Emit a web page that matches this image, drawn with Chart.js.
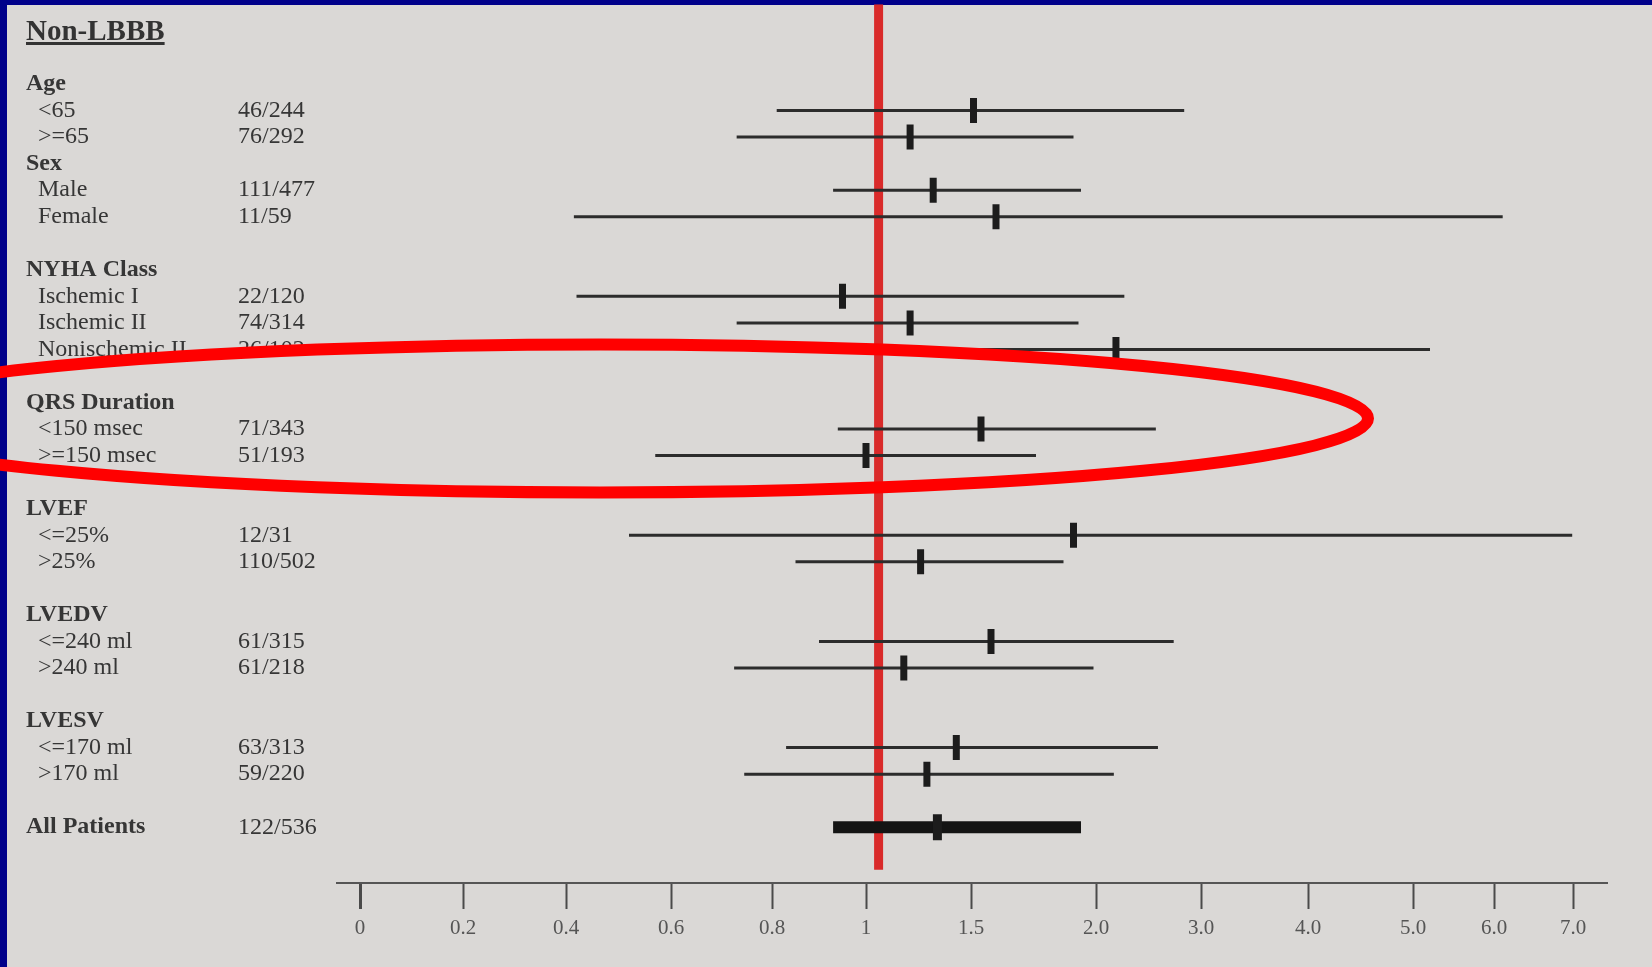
<!DOCTYPE html>
<html>
<head>
<meta charset="utf-8">
<title>Non-LBBB</title>
<script src="https://cdn.jsdelivr.net/npm/chart.js@4.4.1/dist/chart.umd.min.js"></script>
<style>
  html, body { margin: 0; padding: 0; width: 1652px; height: 967px; overflow: hidden; background: #00008a; }
  #panel { position: absolute; left: 7px; top: 5px; right: 0; bottom: 0; background: #dad8d6; }
  #myChart { position: absolute; left: 0; top: 0; }
  #title {
    position: absolute; left: 26px; top: 14px; line-height: 29px;
    font: bold 29px "Liberation Serif", serif; color: #333;
    text-decoration: underline; text-decoration-thickness: 3px; text-underline-offset: 2px;
  }
</style>
</head>
<body>
<div id="panel"></div>
<canvas id="myChart" width="1652" height="967"></canvas>
<div id="title">Non-LBBB</div>
<script>
const rowLabels = [
  "Age", "<65", ">=65", "Sex", "Male", "Female", "",
  "NYHA Class", "Ischemic I", "Ischemic II", "Nonischemic II", "",
  "QRS Duration", "<150 msec", ">=150 msec", "",
  "LVEF", "<=25%", ">25%", "",
  "LVEDV", "<=240 ml", ">240 ml", "",
  "LVESV", "<=170 ml", ">170 ml", "",
  "All Patients",
];
const rowCounts = [
  "", "46/244", "76/292", "", "111/477", "11/59", "",
  "", "22/120", "74/314", "26/102", "",
  "", "71/343", "51/193", "",
  "", "12/31", "110/502", "",
  "", "61/315", "61/218", "",
  "", "63/313", "59/220", "",
  "122/536",
];
const groupHeaders = ["Age", "Sex", "NYHA Class", "QRS Duration", "LVEF", "LVEDV", "LVESV", "All Patients"];

// hazard ratio and 95% CI per row (null = header / blank row)
const hrPoint = [
  null, 1.51, 1.21, null, 1.32, 1.60, null,
  null, 0.95, 1.21, 2.19, null,
  null, 1.54, 1.00, null,
  null, 1.91, 1.26, null,
  null, 1.58, 1.18, null,
  null, 1.43, 1.29, null,
  1.34,
];
const ciLow = [
  null, 0.81, 0.73, null, 0.93, 0.415, null,
  null, 0.42, 0.73, 0.90, null,
  null, 0.94, 0.57, null,
  null, 0.52, 0.85, null,
  null, 0.90, 0.725, null,
  null, 0.83, 0.745, null,
  0.93,
];
const ciHigh = [
  null, 2.84, 1.91, null, 1.94, 6.11, null,
  null, 2.27, 1.93, 5.21, null,
  null, 2.57, 1.76, null,
  null, 6.99, 1.87, null,
  null, 2.74, 1.99, null,
  null, 2.59, 2.17, null,
  1.94,
];
const refLine = 1.06;

const tickValues = [0, 0.2, 0.4, 0.6, 0.8, 1, 1.5, 2, 3, 4, 5, 6, 7];
const tickLabels = ["0", "0.2", "0.4", "0.6", "0.8", "1", "1.5", "2.0", "3.0", "4.0", "5.0", "6.0", "7.0"];
// the slide's axis is hand spaced, so each tick value sits at its own axis unit
const tickPos = [0, 1.03, 2.06, 3.11, 4.12, 5.06, 6.11, 7.36, 8.41, 9.48, 10.53, 11.34, 12.13];

function toAxis(hr) {
  for (let i = 1; i < tickValues.length; i++) {
    if (hr <= tickValues[i]) {
      const t = (hr - tickValues[i - 1]) / (tickValues[i] - tickValues[i - 1]);
      return tickPos[i - 1] + t * (tickPos[i] - tickPos[i - 1]);
    }
  }
  return tickPos[tickPos.length - 1];
}

const overallRow = rowLabels.indexOf("All Patients");
const subRows = hrPoint.map((_, i) => i).filter((i) => hrPoint[i] !== null && i !== overallRow);

const ciData = [];
subRows.forEach((i) => {
  ciData.push({ x: toAxis(ciLow[i]), y: i }, { x: toAxis(ciHigh[i]), y: i }, { x: null, y: null });
});
const pointData = subRows.map((i) => ({ x: toAxis(hrPoint[i]), y: i }));

const SERIF = "'Liberation Serif', 'Times New Roman', serif";

function rowAxis(weight, width, textOf) {
  return {
    type: "linear",
    position: "left",
    weight: weight,
    min: -3,
    max: 30.1,
    reverse: true,
    grid: { display: false },
    border: { display: false },
    afterBuildTicks: (s) => {
      s.ticks = rowLabels.map((_, i) => i).filter((i) => textOf(i)).map((i) => ({ value: i }));
    },
    afterFit: (s) => {
      s.width = width;
      s.paddingTop = 0;
      s.paddingBottom = 0;
    },
    ticks: {
      autoSkip: false,
      crossAlign: "far",
      color: "#363636",
      callback: (v) => textOf(v),
      font: (ctx) => ({
        family: SERIF,
        size: 24,
        weight: ctx.tick && groupHeaders.includes(textOf(ctx.tick.value)) ? "bold" : "normal",
      }),
    },
  };
}

const highlightPlugin = {
  id: "highlight",
  afterDraw(chart) {
    const { x, y } = chart.scales;
    const ctx = chart.ctx;
    const cx = x.getPixelForValue(2.4);
    const cy = y.getPixelForValue(12.6);
    const rx = x.getPixelForValue(2.4 + 7.68) - cx;
    const ry = Math.abs(y.getPixelForValue(12.6 + 2.79) - cy);
    ctx.save();
    ctx.beginPath();
    ctx.ellipse(cx, cy, rx, ry, 0, 0, Math.PI * 2);
    ctx.lineWidth = 12;
    ctx.strokeStyle = "#ff0000";
    ctx.stroke();
    ctx.restore();
  },
};

const ctx = document.getElementById("myChart").getContext("2d");
new Chart(ctx, {
  type: "line",
  data: {
    datasets: [
      {
        label: "HR = 1",
        data: [{ x: toAxis(refLine), y: -3 }, { x: toAxis(refLine), y: 29.6 }],
        borderColor: "#d92a2a",
        borderWidth: 9,
        pointRadius: 0,
        order: 5,
      },
      {
        label: "95% CI",
        data: ciData,
        borderColor: "#2c2c2c",
        borderWidth: 3,
        pointRadius: 0,
        spanGaps: false,
        order: 3,
      },
      {
        label: "95% CI (all)",
        data: [{ x: toAxis(ciLow[overallRow]), y: overallRow }, { x: toAxis(ciHigh[overallRow]), y: overallRow }],
        borderColor: "#141414",
        borderWidth: 12,
        pointRadius: 0,
        order: 3,
      },
      {
        label: "HR",
        data: pointData,
        showLine: false,
        pointStyle: "line",
        pointRotation: 90,
        pointRadius: 12.5,
        pointBorderWidth: 7,
        pointBorderColor: "#1c1c1c",
        order: 1,
      },
      {
        label: "HR (all)",
        data: [{ x: toAxis(hrPoint[overallRow]), y: overallRow }],
        showLine: false,
        pointStyle: "line",
        pointRotation: 90,
        pointRadius: 13,
        pointBorderWidth: 9,
        pointBorderColor: "#1c1c1c",
        order: 1,
      },
    ],
  },
  options: {
    responsive: false,
    animation: false,
    events: [],
    devicePixelRatio: 1,
    layout: { autoPadding: false, padding: { left: 26, right: 45, top: 4.35, bottom: 0 } },
    plugins: { legend: { display: false }, tooltip: { enabled: false } },
    scales: {
      x: {
        type: "linear",
        min: -0.23,
        max: 12.47,
        afterBuildTicks: (s) => {
          s.ticks = tickPos.map((v) => ({ value: v }));
        },
        afterFit: (s) => {
          s.height = 84;
          s.paddingLeft = 0;
          s.paddingRight = 0;
        },
        grid: {
          display: true,
          drawOnChartArea: false,
          drawTicks: true,
          tickLength: 26,
          tickColor: "#4a4a4a",
          tickWidth: (c) => (c.index === 0 ? 3 : 2),
        },
        border: { display: true, color: "#555", width: 2 },
        ticks: {
          autoSkip: false,
          maxRotation: 0,
          padding: 7,
          color: "#555",
          font: { family: SERIF, size: 21 },
          callback: (v, i) => tickLabels[i],
        },
      },
      y: rowAxis(2, 212, (i) => {
        const t = rowLabels[i] || "";
        return t && !groupHeaders.includes(t) ? "  " + t : t;
      }),
      yCount: rowAxis(1, 99, (i) => rowCounts[i] || ""),
    },
  },
  plugins: [highlightPlugin],
});
</script>
</body>
</html>
